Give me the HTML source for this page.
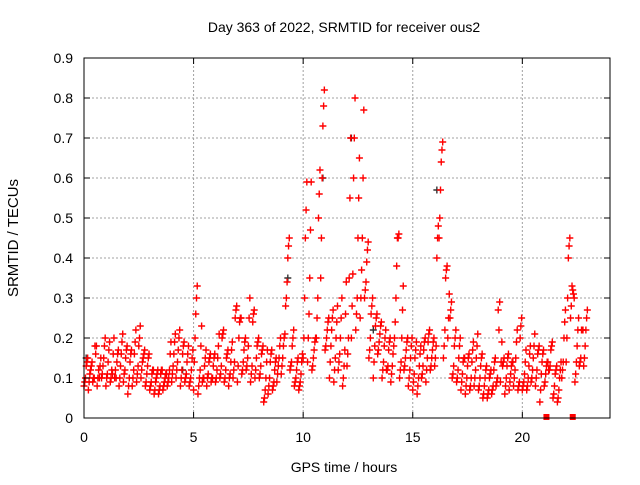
<!DOCTYPE html>
<html><head><meta charset="utf-8"><style>
body{margin:0;background:#fff}
svg text{font-family:"Liberation Sans",sans-serif;font-size:14px;fill:#000}
</style></head><body>
<svg id="chart" width="640" height="480" xmlns="http://www.w3.org/2000/svg">
<rect width="640" height="480" fill="#fff"/>
<text x="344" y="32" text-anchor="middle">Day 363 of 2022, SRMTID for receiver ous2</text>
<text x="344" y="472" text-anchor="middle">GPS time / hours</text>
<text transform="translate(18,238) rotate(-90)" text-anchor="middle" style="font-size:15px">SRMTID / TECUs</text>
<g id="grid"></g><g id="marks"></g><g id="axes"></g>
</svg>
<script>
const binStart=0, binWidth=0.2;
const seriesLo=[.08,.07,.09,.08,.1,.08,.09,.1,.08,.09,.06,.08,.09,.1,.08,.07,.06,.06,.07,.08,.09,.1,.08,.09,.08,.07,.06,.09,.08,.09,.09,.1,.09,.08,.1,.09,.11,.12,.09,.1,.1,.04,.06,.07,.09,.11,.28,.12,.08,.07,.15,.14,.12,.2,.35,.17,.1,.09,.12,.08,.13,.2,.22,.25,.3,.15,.1,.16,.1,.12,.09,.24,.1,.12,.08,.07,.06,.1,.09,.12,.13,.45,.15,.2,.1,.09,.07,.06,.07,.08,.07,.05,.05,.06,.08,.09,.06,.07,.08,.07,.07,.07,.09,.08,.04,.08,.12,.05,.04,.1,.14,.25,.09,.13,.13];
const seriesE=[.09,.09,.1,.1,.11,.1,.1,.12,.1,.11,.08,.1,.11,.12,.09,.08,.07,.07,.08,.09,.11,.12,.1,.1,.09,.14,.08,.1,.1,.1,.1,.11,.1,.1,.12,.13,.12,.13,.11,.12,.11,.05,.08,.08,.11,.13,.3,.13,.09,.08,.2,.2,.13,.25,.45,.18,.14,.12,.14,.1,.16,.28,.26,.3,.32,.17,.14,.17,.12,.12,.11,.3,.12,.13,.1,.09,.08,.11,.12,.13,.15,.5,.18,.25,.11,.1,.09,.08,.08,.1,.08,.06,.06,.07,.09,.14,.08,.09,.1,.08,.08,.08,.1,.1,.07,.09,.12,.06,.05,.12,.2,.28,.11,.14,.15];
const seriesMid1=[.1,.11,.1,.12,.13,.11,.12,.1,.13,.12,.1,.12,.13,.14,.11,.09,.09,.08,.09,.1,.13,.14,.12,.11,.1,.2,.1,.1,.11,.1,.12,.13,.12,.11,.14,.2,.14,.15,.13,.15,.13,.07,.1,.09,.13,.15,.34,.14,.1,.09,.3,.26,.15,.3,.6,.2,.18,.15,.16,.13,.2,.36,.3,.37,.34,.2,.18,.19,.14,.13,.13,.38,.14,.15,.12,.11,.1,.13,.15,.15,.18,.57,.22,.31,.13,.12,.11,.1,.1,.12,.1,.08,.07,.08,.1,.19,.1,.11,.12,.09,.09,.1,.12,.12,.11,.11,.13,.08,.07,.14,.3,.33,.14,.15,.18];
const seriesMid2=[.13,.12,.18,.1,.15,.14,.11,.14,.16,.15,.14,.16,.18,.15,.13,.11,.1,.11,.1,.12,.16,.17,.16,.14,.12,.26,.12,.13,.14,.13,.15,.2,.15,.14,.25,.24,.17,.18,.24,.18,.16,.1,.14,.12,.15,.18,.4,.18,.12,.11,.45,.35,.17,.5,.73,.22,.22,.2,.2,.17,.35,.6,.45,.45,.39,.26,.23,.21,.18,.17,.16,.45,.2,.17,.15,.15,.13,.17,.19,.17,.4,.64,.35,.25,.18,.15,.14,.13,.14,.15,.13,.1,.1,.12,.27,.13,.13,.13,.15,.2,.11,.13,.15,.16,.14,.13,.17,.11,.1,.2,.4,.32,.18,.22,.22];
const seriesF=[.14,.13,.16,.13,.18,.17,.16,.16,.19,.17,.16,.19,.2,.16,.15,.12,.11,.12,.11,.16,.19,.2,.18,.16,.15,.3,.18,.15,.15,.15,.18,.21,.16,.17,.27,.25,.19,.25,.26,.19,.17,.14,.16,.14,.18,.2,.43,.2,.14,.14,.52,.47,.19,.56,.78,.24,.25,.24,.25,.26,.55,.7,.55,.6,.42,.28,.25,.23,.2,.19,.18,.45,.27,.19,.18,.17,.16,.19,.21,.19,.45,.67,.37,.27,.2,.18,.15,.15,.17,.18,.15,.12,.11,.14,.22,.14,.15,.14,.19,.23,.14,.16,.18,.17,.16,.14,.18,.12,.12,.24,.43,.31,.22,.22,.25];
const seriesHi=[.15,.14,.18,.15,.2,.19,.2,.17,.21,.18,.17,.22,.23,.17,.16,.12,.12,.12,.11,.19,.21,.22,.19,.18,.17,.33,.23,.17,.16,.16,.21,.22,.17,.19,.28,.25,.2,.3,.27,.2,.18,.17,.17,.15,.2,.21,.45,.22,.15,.16,.59,.59,.2,.62,.82,.25,.27,.28,.3,.34,.7,.8,.65,.77,.44,.3,.26,.24,.22,.2,.2,.46,.33,.2,.2,.19,.18,.2,.22,.2,.48,.69,.38,.29,.22,.2,.15,.16,.19,.21,.16,.13,.12,.15,.29,.15,.16,.14,.22,.25,.17,.18,.21,.18,.17,.14,.19,.13,.14,.27,.45,.3,.25,.22,.27];
const blackTimes=[0.1,10.9,12.2,16.1,9.3,4.5,13.2];
const blackValues=[.15,.6,.7,.57,.35,.12,.22];
const zeroTimes=[21.1,22.3];
const zeroValues=[0,0];
const xTicks=[0,5,10,15,20];
const yTicks=[0,0.1,0.2,0.3,0.4,0.5,0.6,0.7,0.8,0.9];
const L=84,R=610,T=58,B=418,XMAX=24,YMAX=0.9;
const X=h=>L+h/XMAX*(R-L), Y=v=>B-v/YMAX*(B-T);
const NS='http://www.w3.org/2000/svg';
function mk(tag,parent,attrs){const e=document.createElementNS(NS,tag);for(const k in attrs)e.setAttribute(k,attrs[k]);parent.appendChild(e);return e;}
const grid=document.getElementById('grid'),marks=document.getElementById('marks'),axes=document.getElementById('axes');
xTicks.forEach(t=>{const x=X(t);
 if(t>0){const g=mk('line',grid,{x1:x,x2:x,y1:T,y2:B,stroke:'#a0a0a0','stroke-dasharray':'2,2'});
 
 }
 mk('line',axes,{x1:x,x2:x,y1:B,y2:B-6,stroke:'#000'});mk('line',axes,{x1:x,x2:x,y1:T,y2:T+6,stroke:'#000'});
 const tx=mk('text',axes,{x:x,y:B+24,'text-anchor':'middle'});tx.textContent=t;
 
 });
yTicks.forEach(t=>{const y=Y(t);
 if(t>0&&t<0.9){const g=mk('line',grid,{x1:L,x2:R,y1:y,y2:y,stroke:'#a0a0a0','stroke-dasharray':'2,2'});
 
 }
 mk('line',axes,{x1:L,x2:L+6,y1:y,y2:y,stroke:'#000'});mk('line',axes,{x1:R,x2:R-6,y1:y,y2:y,stroke:'#000'});
 const tx=mk('text',axes,{x:L-11,y:y+5,'text-anchor':'end'});tx.textContent=t===0?'0':t.toFixed(1);
 
 });
const fr=mk('rect',axes,{x:L,y:T,width:R-L,height:B-T,fill:'none',stroke:'#000'});


function plus(h,v,col,name){const x=X(h),y=Y(v);
 const p=mk('path',marks,{d:`M${x-3.5},${y}h7M${x},${y-3.5}v7`,stroke:col,'stroke-width':1.4,fill:'none'});
 
 }
blackTimes.forEach((h,i)=>plus(h,blackValues[i],'#333','black-point'));
const allSeries=[seriesLo,seriesE,seriesMid1,seriesMid2,seriesF,seriesHi];
allSeries.forEach((s,k)=>s.forEach((v,i)=>plus(binStart+i*binWidth+k*binWidth/allSeries.length,v,'#ff0000','srmtid-point')));
zeroTimes.forEach((h,i)=>{const r=mk('rect',marks,{x:X(h)-3,y:Y(zeroValues[i])-4,width:6,height:6,fill:'#ff0000'});
 
 });
</script>
</body></html>
